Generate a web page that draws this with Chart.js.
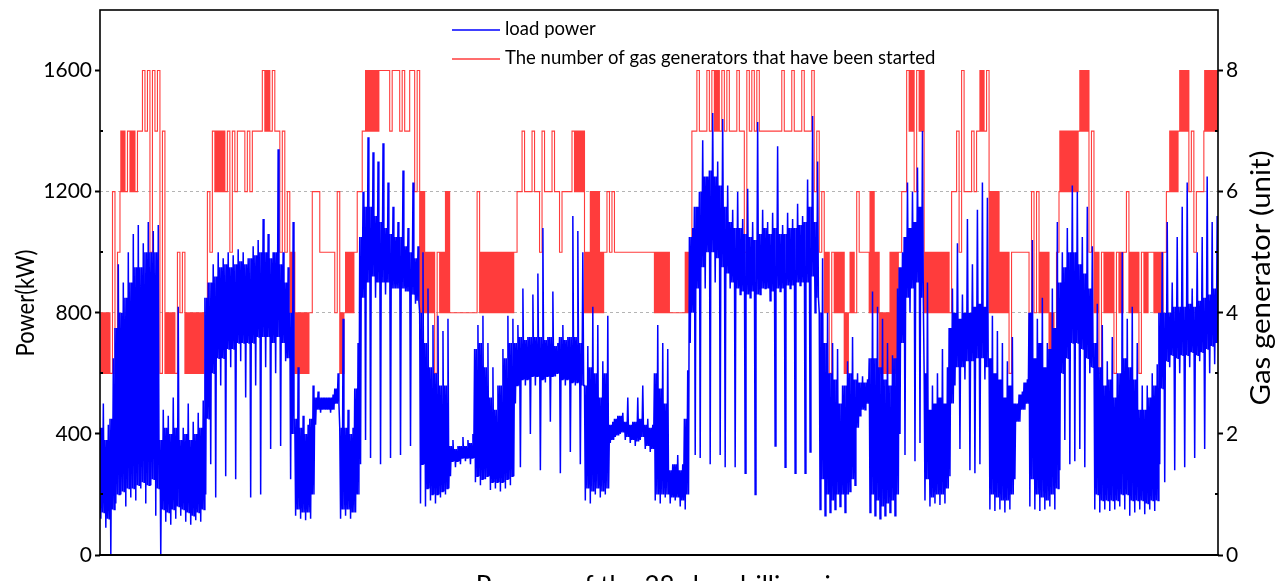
<!DOCTYPE html>
<html lang="en">
<head>
<meta charset="UTF-8">
<title>Load power and started gas generators</title>
<style>
  body { margin: 0; background: #ffffff; }
  #wrap { width: 1285px; height: 581px; }
</style>
</head>
<body>
<div id="wrap"><canvas id="loadChart" width="1285" height="581"></canvas></div>

<script src="https://cdn.jsdelivr.net/npm/chart.js"></script>
<script>
// 224 slots over the 28-day record.
// loadLow / loadHigh: extreme readings in a slot (the spikes)
// bandLow / bandHigh: where most readings of that slot sit
const loadLow = [
  120, 90, 0, 170, 200, 160, 190, 180, 220, 170, 230, 130,
  0, 110, 100, 120, 130, 110, 100, 115, 110,
  200, 300, 190, 560, 260, 620, 250, 640, 520, 190, 560, 200, 620, 350, 600, 360, 640,
  250, 130, 120, 115, 120,
  430, 470, 480, 470,
  500, 120, 130, 120, 140,
  300, 380, 320, 850, 300, 860, 320, 880, 330, 870, 360, 830,
  170, 160, 180, 170, 190, 200,
  260, 290, 300, 310, 300,
  240, 230, 250, 215, 220, 210, 220, 230,
  500, 290, 560, 400, 560, 280, 570, 440, 590, 270, 560, 340, 560, 300,
  180, 170, 200, 190, 200,
  370, 390, 400, 380, 370, 360, 380, 350, 340,
  180, 170, 190, 170, 180, 160, 150,
  700, 330, 320, 880, 300, 900, 330, 290, 880, 290, 860, 270, 850, 200, 860, 880, 840, 360, 870, 290, 880, 270, 890, 270, 340, 800,
  150, 130, 140, 150, 160, 140,
  210, 230, 460, 480,
  140, 130, 120, 130, 140, 130,
  400, 330, 800, 310, 370,
  180, 160, 170, 165, 170,
  260, 560, 350, 580, 280, 270, 300, 580,
  150, 145, 150, 140, 150,
  250, 440, 480,
  160,
  150, 145, 150, 160, 150,
  280, 380, 300, 310, 350, 290, 600,
  150, 140, 150, 145, 150, 160,
  150, 130, 140, 150, 135, 150, 145,
  300, 240, 620, 280, 600, 290, 620, 320, 640, 350, 600, 630
];
const loadHigh = [
  500, 430, 650, 960, 900, 1000, 1060, 1090, 1030, 1100, 1070, 1090,
  480, 460, 520, 820, 420, 500, 440, 470, 510,
  900, 960, 1000, 980, 1000, 990, 1010, 1000, 980, 1020, 1040, 1110, 1060, 1000, 1340, 1000, 950,
  1100, 620, 460, 430, 560,
  540, 520, 520, 530,
  600, 780, 480, 420, 700,
  1200, 1380, 1330, 1300, 1360, 1230, 1150, 1100, 1270, 1080, 1230, 1020,
  1000, 880, 760, 790, 740, 780,
  380, 360, 390, 380, 400,
  760, 790, 700, 620, 560, 680, 790, 780,
  760, 880, 720, 860, 930, 1080, 720, 870, 700, 760, 720, 1120, 1070, 1000,
  690, 820, 760, 640, 790,
  440, 460, 470, 520, 440, 520, 560, 450, 430,
  760, 700, 680, 300, 330, 300, 610,
  1080, 1150, 1370, 1250, 1460, 1300, 1440, 1220, 1140, 1200, 1110, 1210, 1100, 1430, 1140, 1100, 1130, 1350, 1090, 1130, 1110, 1160, 1120, 1240, 1450, 1300,
  980, 800, 700, 680, 560, 640,
  720, 600, 590, 580,
  870, 820, 780, 700, 660, 880,
  1000, 1230, 1200, 1280, 1400,
  900, 560, 600, 680, 620,
  880, 1030, 860, 1110, 960, 1140, 1230, 1180,
  790, 740, 700, 640, 720,
  500, 540, 580,
  1040,
  780, 850, 700, 880, 1100,
  1000, 1080, 1220, 1200, 1050, 1150, 1020,
  830, 760, 640, 720, 600, 1000,
  780, 820, 700, 560, 560, 600, 630,
  1000, 1100, 900, 1050, 1150, 1230, 880, 1000, 1050, 1250, 1100, 1120
];
const bandLow = [
  140, 120, 150, 200, 210, 220, 220, 230, 240, 230, 250, 220,
  150, 140, 150, 160, 150, 140, 130, 140, 150,
  450, 600, 650, 650, 680, 680, 700, 700, 700, 700, 720, 720, 720, 700, 720, 700, 650,
  400, 150, 140, 140, 200,
  480, 480, 480, 480,
  500, 150, 150, 140, 200,
  850, 900, 920, 900, 900, 900, 880, 880, 880, 870, 860, 840,
  300, 220, 200, 200, 210, 220,
  310, 310, 320, 320, 320,
  260, 250, 260, 240, 240, 240, 250, 260,
  560, 580, 580, 590, 590, 580, 590, 590, 600, 580, 580, 570, 570, 560,
  220, 210, 220, 210, 220,
  380, 395, 405, 390, 380, 375, 390, 360, 350,
  200, 200, 200, 190, 190, 180, 200,
  800, 880, 950, 1000, 1000, 980, 950, 930, 900, 880, 870, 860, 870, 860, 880, 880, 870, 880, 880, 890, 890, 900, 900, 900, 920, 850,
  250, 200, 180, 200, 200, 200,
  250, 420, 480, 500,
  200, 180, 160, 170, 180, 200,
  700, 850, 880, 900, 850,
  250, 190, 200, 200, 220,
  500, 620, 620, 640, 640, 650, 650, 620,
  200, 190, 180, 180, 200,
  440, 480, 500,
  250,
  200, 190, 180, 200, 220,
  600, 650, 700, 700, 680, 650, 620,
  200, 180, 180, 180, 180, 200,
  200, 180, 180, 180, 170, 180, 180,
  550, 640, 660, 650, 660, 660, 670, 660, 670, 680, 690, 700
];
const bandHigh = [
  420, 380, 450, 750, 800, 850, 900, 950, 950, 1000, 1000, 1000,
  380, 420, 400, 420, 380, 400, 380, 400, 420,
  850, 900, 920, 950, 960, 950, 960, 970, 960, 980, 990, 1000, 1000, 980, 1000, 960, 900,
  800, 450, 420, 400, 450,
  520, 520, 520, 520,
  550, 420, 420, 400, 550,
  1050, 1150, 1150, 1120, 1100, 1080, 1060, 1050, 1050, 1020, 1000, 980,
  800, 700, 620, 600, 560, 560,
  360, 350, 360, 360, 370,
  680, 700, 620, 520, 480, 560, 650, 700,
  700, 720, 710, 720, 720, 720, 710, 720, 690, 720, 710, 720, 720, 700,
  560, 620, 600, 520, 600,
  430, 450, 460, 440, 430, 440, 450, 430, 420,
  600, 550, 500, 280, 300, 280, 450,
  1050, 1150, 1200, 1250, 1270, 1250, 1220, 1150, 1100, 1080, 1080, 1060, 1050, 1040, 1060, 1080, 1060, 1080, 1060, 1060, 1080, 1080, 1090, 1100, 1150, 1100,
  800, 700, 600, 580, 500, 560,
  600, 580, 570, 570,
  650, 650, 620, 580, 560, 650,
  950, 1050, 1080, 1100, 1150,
  600, 480, 500, 520, 500,
  750, 800, 780, 800, 800, 820, 830, 820,
  650, 600, 580, 520, 560,
  500, 530, 570,
  800,
  650, 700, 620, 680, 750,
  900, 950, 1000, 1000, 960, 930, 880,
  700, 620, 560, 580, 520, 600,
  650, 620, 580, 480, 480, 520, 560,
  800, 800, 800, 820, 820, 820, 830, 820, 840, 850, 860, 880
];

// generators running in the same slots: fewest, most, and whether they
// were switched on and off many times (1) or only once (0)
const gensLow = [
  3, 3, 3, 3, 6, 6, 6, 6, 7, 7, 5, 7,
  3, 3, 3, 3, 4, 3, 3, 3, 3,
  4, 5, 6, 6, 6, 5, 6, 7, 6, 6, 7, 7, 7, 7, 7, 5, 5,
  4, 3, 3, 3, 4,
  6, 5, 5, 5,
  4, 3, 4, 4, 5,
  6, 7, 7, 7, 8, 8, 7, 8, 7, 7, 8, 6,
  4, 4, 4, 3, 4, 4,
  4, 4, 4, 4, 4,
  4, 4, 4, 4, 4, 4, 4, 4,
  5, 6, 6, 6, 6, 5, 6, 6, 6, 5, 6, 6, 6, 6,
  4, 4, 4, 4, 5,
  5, 5, 5, 5, 5, 5, 5, 5, 5,
  4, 4, 4, 4, 4, 4, 4,
  5, 7, 7, 7, 7, 7, 7, 7, 7, 7, 7, 5, 7, 7, 7, 7, 7, 7, 7, 7, 7, 7, 7, 7, 7, 6,
  5, 4, 3, 4, 4, 3,
  4, 4, 5, 5,
  4, 4, 3, 3, 3, 3,
  5, 6, 7, 6, 7,
  4, 4, 4, 4, 4,
  4, 6, 5, 6, 6, 6, 7, 7,
  4, 4, 4, 4, 3,
  5, 5, 5,
  3,
  4, 4, 4, 3, 3,
  6, 6, 6, 6, 7, 7, 5,
  4, 3, 4, 4, 3, 4,
  5, 4, 4, 3, 4, 5, 4,
  4, 5, 6, 6, 7, 7, 6, 5, 6, 7, 7, 7
];
const gensHigh = [
  4, 4, 6, 5, 7, 7, 7, 7, 8, 8, 8, 8,
  7, 4, 4, 5, 5, 4, 4, 4, 4,
  6, 7, 7, 7, 7, 7, 7, 7, 7, 7, 7, 8, 8, 8, 7, 7, 6,
  5, 4, 4, 4, 6,
  6, 5, 5, 5,
  6, 4, 5, 5, 6,
  7, 8, 8, 8, 8, 8, 8, 8, 8, 7, 8, 8,
  6, 5, 5, 5, 5, 6,
  4, 4, 4, 4, 4,
  6, 5, 5, 5, 5, 5, 5, 5,
  6, 7, 6, 7, 6, 7, 6, 7, 6, 6, 6, 7, 7, 7,
  5, 6, 6, 5, 6,
  6, 5, 5, 5, 5, 5, 5, 5, 5,
  5, 5, 5, 4, 4, 4, 5,
  7, 8, 7, 8, 8, 8, 8, 8, 7, 8, 7, 8, 8, 8, 7, 7, 7, 7, 8, 7, 8, 7, 8, 7, 8, 7,
  6, 5, 5, 5, 5, 4,
  5, 6, 5, 5,
  6, 5, 4, 4, 5, 5,
  6, 8, 8, 8, 8,
  5, 5, 5, 5, 5,
  6, 7, 8, 6, 7, 7, 8, 8,
  6, 6, 5, 5, 5,
  5, 5, 5,
  6,
  6, 5, 5, 4, 5,
  7, 7, 7, 7, 8, 8, 7,
  5, 5, 5, 5, 5, 5,
  6, 5, 5, 5, 5, 5, 5,
  5, 6, 7, 7, 8, 8, 7, 6, 6, 8, 8, 8
];
const gensBusy = [
  1, 1, 0, 0, 1, 0, 1, 0, 0, 0, 0, 0,
  0, 1, 1, 0, 0, 1, 1, 1, 1,
  0, 0, 1, 1, 0, 0, 0, 0, 0, 0, 0, 0, 1, 0, 0, 0, 0,
  1, 1, 1, 1, 0,
  0, 0, 0, 0,
  0, 1, 1, 1, 0,
  0, 1, 1, 1, 0, 0, 0, 0, 0, 0, 0, 0,
  1, 1, 1, 0, 1, 1,
  0, 0, 0, 0, 0,
  0, 1, 1, 1, 1, 1, 1, 1,
  0, 0, 0, 0, 0, 0, 0, 0, 0, 0, 0, 0, 1, 1,
  1, 1, 1, 1, 0,
  0, 0, 0, 0, 0, 0, 0, 0, 0,
  1, 1, 1, 0, 0, 0, 1,
  0, 0, 0, 0, 0, 1, 0, 0, 0, 0, 0, 0, 0, 0, 0, 0, 0, 0, 0, 0, 0, 0, 0, 0, 0, 0,
  0, 1, 0, 1, 1, 1,
  1, 0, 0, 0,
  1, 1, 1, 1, 1, 1,
  0, 0, 1, 0, 1,
  1, 1, 1, 1, 1,
  0, 0, 0, 0, 0, 0, 1, 0,
  1, 1, 1, 1, 0,
  0, 0, 0,
  0,
  0, 1, 1, 1, 0,
  1, 1, 1, 1, 1, 1, 0,
  1, 0, 1, 1, 0, 1,
  0, 1, 1, 0, 1, 0, 1,
  1, 0, 1, 1, 1, 1, 0, 0, 0, 1, 1, 1
];

const powerTicks = [0, 400, 800, 1200, 1600];
const powerMinor = [200, 600, 1000, 1400];
const genTicks = [0, 2, 4, 6, 8];
const genMinor = [1, 3, 5, 7];
const dashedAt = [800, 1200];

const legendLabels = ['load power', 'The number of gas generators that have been started'];
const xTitle = 'Process of the 28-day drilling rig';

const PER_SLOT = 6;

// six samples a slot: dip to the low spike, sweep the band, jump to the high spike
function loadTrace() {
  const pts = [];
  loadLow.forEach((lo, i) => {
    [bandHigh[i], lo, bandHigh[i], bandLow[i], loadHigh[i], bandLow[i]]
      .forEach((v, k) => pts.push({ x: PER_SLOT * i + k, y: v }));
  });
  return pts;
}

// busy slots toggle between the two counts, quiet ones switch once
function gensTrace() {
  const pts = [];
  gensLow.forEach((lo, i) => {
    const hi = gensHigh[i];
    const seq = gensBusy[i] ? [lo, hi, lo, hi, lo, hi] : [lo, lo, lo, hi, hi, hi];
    seq.forEach((v, k) => pts.push({ x: PER_SLOT * i + k, y: v }));
  });
  return pts;
}

const BLUE = '#0000ff';
const RED = 'rgb(255, 60, 60)';
const FONT = 'Lato, "Open Sans", sans-serif';

// vertical title, squeezed or stretched along its length to a fixed span
function sideTitle(ctx, text, x, y, size, span) {
  ctx.save();
  ctx.font = size + 'px ' + FONT;
  const w = ctx.measureText(text).width;
  ctx.translate(x, y);
  ctx.rotate(-Math.PI / 2);
  ctx.scale(span / w, 1);
  ctx.fillText(text, 0, 0);
  ctx.restore();
}

const decorations = {
  id: 'decorations',
  afterDraw(chart) {
    const { ctx, chartArea: a, scales } = chart;
    ctx.save();

    // frame round the plot, bottom axis a bit heavier
    ctx.strokeStyle = '#000';
    ctx.lineWidth = 1.6;
    ctx.strokeRect(a.left, a.top, a.right - a.left, a.bottom - a.top);
    ctx.lineWidth = 2.2;
    ctx.beginPath();
    ctx.moveTo(a.left - 1, a.bottom); ctx.lineTo(a.right + 1, a.bottom);
    ctx.stroke();

    // small inner ticks between the labelled ones
    ctx.lineWidth = 2;
    ctx.beginPath();
    powerMinor.forEach(v => {
      const y = Math.round(scales.power.getPixelForValue(v));
      ctx.moveTo(a.left, y); ctx.lineTo(a.left + 3, y);
    });
    genMinor.forEach(v => {
      const y = Math.round(scales.gens.getPixelForValue(v));
      ctx.moveTo(a.right, y); ctx.lineTo(a.right - 3, y);
    });
    ctx.stroke();

    // axis titles
    ctx.fillStyle = '#000';
    ctx.textAlign = 'center';
    ctx.textBaseline = 'middle';
    sideTitle(ctx, 'Power(kW)', 26, 303, 25, 107);
    sideTitle(ctx, 'Gas generator (unit)', 1262, 278, 26, 255);
    ctx.font = '26px ' + FONT;
    ctx.textBaseline = 'alphabetic';
    ctx.fillText(xTitle, 660, 595);

    // legend inside the plot
    ctx.font = '18.5px ' + FONT;
    ctx.textAlign = 'left';
    ctx.textBaseline = 'middle';
    [[BLUE, 30], [RED, 59]].forEach(([c, y], k) => {
      ctx.strokeStyle = c;
      ctx.lineWidth = 1.5;
      ctx.beginPath();
      ctx.moveTo(452, y); ctx.lineTo(500, y);
      ctx.stroke();
      ctx.fillText(legendLabels[k], 505, y - 1);
    });
    ctx.restore();
  }
};

new Chart(document.getElementById('loadChart'), {
  type: 'line',
  data: {
    datasets: [
      {
        label: legendLabels[0],
        data: loadTrace(),
        yAxisID: 'power',
        borderColor: BLUE,
        borderWidth: 1.5,
        pointRadius: 0,
        tension: 0
      },
      {
        label: legendLabels[1],
        data: gensTrace(),
        yAxisID: 'gens',
        borderColor: RED,
        borderWidth: 1.1,
        pointRadius: 0,
        stepped: true
      }
    ]
  },
  options: {
    responsive: false,
    animation: false,
    events: [],
    layout: { padding: { top: 10, bottom: 26, left: 0, right: 0 } },
    plugins: { legend: { display: false }, tooltip: { enabled: false } },
    scales: {
      x: {
        type: 'linear',
        min: 0,
        max: PER_SLOT * loadLow.length - 1,
        display: false
      },
      power: {
        position: 'left',
        min: 0,
        max: 1800,
        afterFit(s) { s.width = 100; s.paddingTop = 0; s.paddingBottom = 0; },
        afterBuildTicks(s) { s.ticks = powerTicks.map(v => ({ value: v })); },
        ticks: { color: '#000', font: { family: FONT, size: 21 }, padding: 3, callback: v => String(v) },
        border: { display: false, dash: [3, 3] },
        grid: {
          color: c => dashedAt.includes(c.tick && c.tick.value) ? '#b4b4b4' : 'rgba(0,0,0,0)',
          tickColor: '#000',
          tickLength: 5,
          tickWidth: 2,
          lineWidth: 1
        }
      },
      gens: {
        position: 'right',
        min: 0,
        max: 9,
        afterFit(s) { s.width = 67; s.paddingTop = 0; s.paddingBottom = 0; },
        afterBuildTicks(s) { s.ticks = genTicks.map(v => ({ value: v })); },
        ticks: { color: '#000', font: { family: FONT, size: 21 }, padding: 3, callback: v => String(v) },
        border: { display: false },
        grid: {
          drawOnChartArea: false,
          tickColor: '#000',
          tickLength: 5,
          tickWidth: 2
        }
      }
    }
  },
  plugins: [decorations]
});
</script>
</body>
</html>
